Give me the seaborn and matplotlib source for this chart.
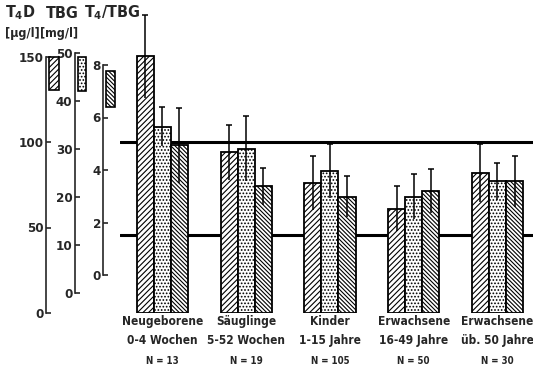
import numpy as np
import pandas as pd
import matplotlib
matplotlib.use("Agg")
import matplotlib.pyplot as plt
from matplotlib.patches import Patch
import seaborn as sns

# ---------------- data ----------------
groups = ["Neugeborene\n0-4 Wochen", "Säuglinge\n5-52 Wochen", "Kinder\n1-15 Jahre",
          "Erwachsene\n16-49 Jahre", "Erwachsene\nüb. 50 Jahre"]
n_labels = ["N = 13", "N = 19", "N = 105", "N = 50", "N = 30"]
series = ["T4D", "TBG", "T4/TBG"]
# bar heights on the common bar scale (T4D axis units)
t4d = [150, 94, 76, 61, 82]
t4d_err = [24, 16, 16, 13, 17]
tbg = [109, 96, 83, 68, 77]
tbg_err = [11.5, 19, 16, 13, 11]
ratio = [98, 74, 68, 71.5, 77]
ratio_err = [22, 11, 12, 13, 15]
ref_lines = [100, 45.6]
# the three value axes
t4d_ticks = [0, 50, 100, 150]
tbg_ticks = [0, 10, 20, 30, 40, 50]
ratio_ticks = [0, 2, 4, 6, 8]

values = [t4d, tbg, ratio]
errors = [t4d_err, tbg_err, ratio_err]
df = pd.DataFrame({
    "group": np.repeat([groups], 3, axis=0).ravel(),
    "series": np.repeat(series, len(groups)),
    "value": np.concatenate(values),
})

# ---------------- style ----------------
sns.set_style("white")
plt.rcParams["font.family"] = ["DejaVu Sans"]
plt.rcParams["font.stretch"] = "condensed"
plt.rcParams["font.weight"] = "bold"
plt.rcParams["mathtext.fontset"] = "custom"
plt.rcParams["mathtext.rm"] = "DejaVu Sans:weight=bold:stretch=condensed"
plt.rcParams["mathtext.it"] = "DejaVu Sans:weight=bold:stretch=condensed"
plt.rcParams["mathtext.bf"] = "DejaVu Sans:weight=bold:stretch=condensed"
plt.rcParams["hatch.linewidth"] = 0.8

W, H = 533, 368
fig = plt.figure(figsize=(W / 100, H / 100), dpi=100)

def fx(px):
    return px / W

def fy(py):
    return (H - py) / H

# main axes: y=0 at pixel 313, 1.71 px per unit
k = 1.71
base = 313
ytop = 180
axh = ytop * k
ax = fig.add_axes([fx(120), fy(base), fx(413), axh / H])

hatches = ["//////", ".....", "\\\\\\\\\\\\\\\\"]
sns.barplot(data=df, x="group", y="value", hue="series", order=groups,
            hue_order=series, width=0.61, errorbar=None,
            palette=["white"] * 3, edgecolor="black", linewidth=1.3,
            legend=False, ax=ax, zorder=3)
for cont, h, err in zip(ax.containers, hatches, errors):
    xs, tops = [], []
    for bar in cont:
        bar.set_hatch(h)
        bar.set_facecolor("white")
        bar.set_edgecolor("black")
        xs.append(bar.get_x() + bar.get_width() / 2)
        tops.append(bar.get_height())
    xs = np.array(xs)
    tops = np.array(tops)
    err = np.array(err)
    ax.vlines(xs, tops - err, tops + err, color="black", lw=1.1, zorder=4)
    ax.scatter(xs, tops + err, marker="_", s=22, color="black",
               linewidths=1.1, zorder=4)

for r in ref_lines:
    ax.axhline(r, color="black", lw=2.2, zorder=1)

ax.set_xlim(-0.507, 4.424)
ax.set_ylim(0, ytop)
ax.set_xlabel("")
ax.set_ylabel("")
ax.set_yticks([])
for s in ax.spines.values():
    s.set_visible(False)
ax.tick_params(axis="x", length=0, pad=1.5)
ax.set_xticks(range(len(groups)))
ax.set_xticklabels(groups, fontsize=8.6, fontweight="bold", linespacing=1.55,
                   va="top")
for i, n in enumerate(n_labels):
    ax.text(i, -(361 - base) / axh, n, transform=ax.get_xaxis_transform(),
            ha="center", va="center", fontsize=7, fontweight="bold")

# ---------------- the three value axes ----------------
def scale_axis(xpix, y0, y1, lo, hi, ticks):
    a = fig.add_axes([fx(xpix), fy(y0), 0.0005, (y0 - y1) / H])
    a.set_ylim(lo, hi)
    a.set_yticks(ticks)
    a.set_yticklabels([str(t) for t in ticks], fontsize=9.5, fontweight="bold")
    a.set_xticks([])
    for name, s in a.spines.items():
        s.set_visible(name == "left")
    a.spines["left"].set_linewidth(1.2)
    a.tick_params(axis="y", direction="in", length=3.5, width=1.2, pad=1.5,
                  left=True)
    a.patch.set_alpha(0)
    return a

scale_axis(46, 313, 56.5, 0, 150, t4d_ticks)
scale_axis(74.5, 293, 53, 0, 50, tbg_ticks)
scale_axis(103, 275, 65, 0, 8, ratio_ticks)

# legend icons, one per value axis
icon_specs = [(49, 57, 10, 33, hatches[0]),
              (78, 57, 8, 34, hatches[1]),
              (106, 71, 8.5, 36, hatches[2])]
fs = 10
pxpt = fs * 100 / 72
for (x0, y0, w, h, hh) in icon_specs:
    fig.legend(handles=[Patch(facecolor="white", edgecolor="black",
                              hatch=hh, linewidth=1.2)],
               labels=[""], loc="upper left",
               bbox_to_anchor=(fx(x0), fy(y0)),
               bbox_transform=fig.transFigure,
               frameon=False, borderpad=0, borderaxespad=0,
               handlelength=w / pxpt,
               handleheight=(h / pxpt - 0.245) / 0.65,
               handletextpad=0, fontsize=fs)

# header texts
fig.text(fx(5), fy(13), "T$_{\\mathregular{4}}$D", fontsize=11.5, va="center", ha="left")
fig.text(fx(46), fy(13), "TBG", fontsize=11.5, va="center", ha="left")
fig.text(fx(84), fy(13), "T$_{\\mathregular{4}}$/TBG", fontsize=11.5, va="center", ha="left")
fig.text(fx(5), fy(33), "[µg/l]", fontsize=9, va="center", ha="left")
fig.text(fx(40), fy(33), "[mg/l]", fontsize=9, va="center", ha="left")

fig.savefig("out.png", dpi=100)
